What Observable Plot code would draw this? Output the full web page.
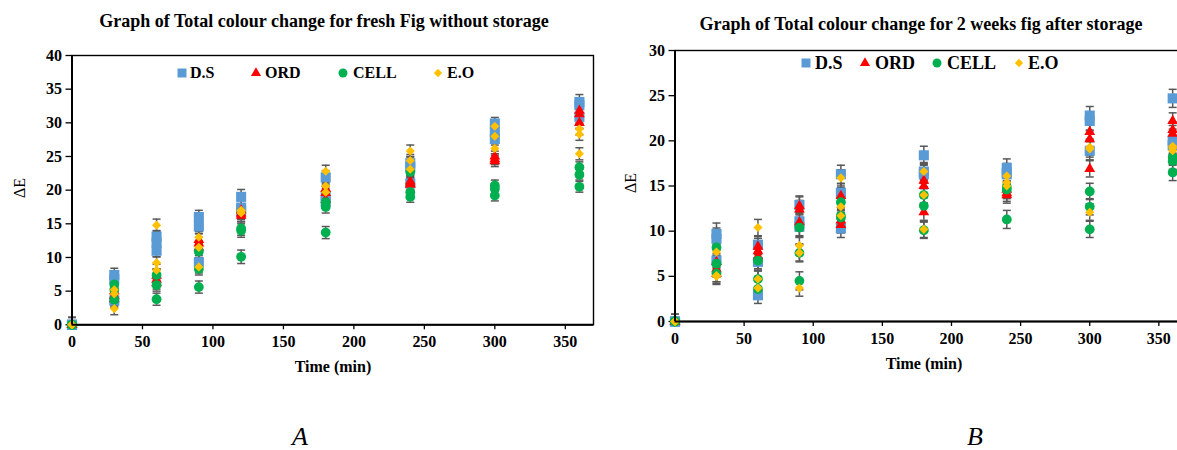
<!DOCTYPE html>
<html>
<head>
<meta charset="utf-8">
<script src="https://cdn.jsdelivr.net/npm/d3@7"></script>
<script src="https://cdn.jsdelivr.net/npm/@observablehq/plot@0.6"></script>
<style>
  body { margin: 0; width: 1177px; height: 450px; overflow: hidden; position: relative; background: #fff;
         font-family: "Liberation Serif", "Times New Roman", serif; color: #000; }
  .abs { position: absolute; white-space: nowrap; line-height: 1; }
  .center { transform: translate(-50%, -50%); }
  .title { font-weight: bold; font-size: 18px; }
  .xlab { font-weight: bold; font-size: 16px; }
  .ylab { font-size: 16px; transform: translate(-50%, -50%) rotate(-90deg); }
  .panel { font-style: italic; font-size: 26px; }
  .leg { font-weight: bold; transform: translateY(-50%); }
  .sym { position: absolute; overflow: visible; }
  .chart { position: absolute; }
</style>
</head>
<body>
<script>
// Sampling times (min)
const times = [0, 30, 60, 90, 120, 180, 240, 300, 360];
const xTicks = [0, 50, 100, 150, 200, 250, 300, 350];
const yTicksFresh = [0, 5, 10, 15, 20, 25, 30, 35, 40];
const yTicksStored = [0, 5, 10, 15, 20, 25, 30];

// Fresh fig: three replicate readings of ΔE per time
const freshDS   = [[0,0,0],[7.4,6.8,3.6],[13.1,12.2,11.0],[16.0,14.6,9.3],[19.0,17.4,16.9],[21.9,19.2,18.3],[24.0,23.4,21.0],[29.9,28.6,27.6],[33.1,32.6,30.9]];
const freshORD  = [[0,0,0],[5.0,4.3,3.8],[7.3,6.7,6.2],[12.6,12.1,11.5],[17.0,16.5,16.2],[20.2,19.6,18.6],[21.3,21.0,20.8],[25.0,24.6,24.3],[31.8,31.3,30.0]];
const freshCELL = [[0,0,0],[6.0,5.2,3.7],[7.4,5.9,3.8],[10.9,8.3,5.6],[14.3,14.0,10.1],[18.2,17.5,13.7],[22.7,19.7,19.0],[20.7,20.2,19.2],[23.4,22.3,20.5]];
const freshEO   = [[0,0,0],[5.2,4.6,2.4],[14.8,9.2,8.1],[13.0,11.5,8.6],[17.0,16.9,16.6],[22.8,20.6,19.7],[25.8,24.4,23.1],[29.5,28.0,26.2],[29.1,28.3,25.4]];
// Fresh fig: error (± ΔE) per time
const freshErrDS   = [1.1,1.0,0.9,1.0,1.1,1.0,1.0,0.9,1.1];
const freshErrORD  = [0,0.9,0.9,0.9,0.9,0.9,0.9,0.8,0.9];
const freshErrCELL = [0,0.9,0.9,0.9,1.0,0.9,0.8,0.8,0.8];
const freshErrEO   = [0,0.9,0.9,0.9,0.9,0.9,0.9,0.8,0.9];

// Fig after 2 weeks storage: three replicate readings of ΔE per time
const storedDS   = [[0,0,0],[9.7,9.15,6.75],[8.5,6.6,2.9],[12.9,11.1,10.5],[16.3,14.25,10.3],[18.4,16.6,16.3],[17.0,16.5,16.3],[22.8,22.2,18.9],[24.7,20.0,19.5]];
const storedORD  = [[0,0,0],[6.6,5.8,5.3],[8.3,7.8,7.2],[12.8,12.4,11.0],[13.9,11.2,10.7],[15.6,15.0,12.1],[14.6,14.2,14.0],[21.0,20.2,16.9],[22.2,21.2,20.8]];
const storedCELL = [[0,0,0],[8.2,6.4,5.3],[6.75,4.7,3.6],[10.4,7.6,4.5],[13.2,11.7,11.5],[14.0,12.8,10.1],[14.9,14.6,11.3],[14.4,12.7,10.2],[18.2,17.75,16.5]];
const storedEO   = [[0,0,0],[7.7,5.1,5.0],[10.4,4.7,3.7],[8.4,7.6,3.7],[15.9,12.7,11.7],[16.6,14.0,10.2],[16.1,15.4,15.0],[19.3,19.1,12.1],[19.4,19.2,18.9]];
// Fig after storage: error (± ΔE) per time
const storedErrDS   = [0.8,1.2,0.9,1.0,1.0,1.0,1.0,1.0,1.0];
const storedErrORD  = [0,0.9,0.9,1.0,0.9,0.9,0.9,0.9,0.9];
const storedErrCELL = [0,0.9,0.9,1.0,0.9,0.9,1.0,0.9,0.9];
const storedErrEO   = [0,0.9,0.9,0.9,0.9,0.9,0.9,0.9,0.9];

const seriesNames = ["D.S", "ORD", "CELL", "E.O"];
const seriesStyle = {
  "D.S":  {symbol: "square",   fill: "#5B9BD5", r: 5.7},
  "ORD":  {symbol: "triangle", fill: "#FF0000", r: 4.0},
  "CELL": {symbol: "circle",   fill: "#00B050", r: 4.9},
  "E.O":  {symbol: "diamond2", fill: "#FFC000", r: 4.1}
};

const tickFont = {fontFamily: "Liberation Serif", fontSize: 16, fontWeight: "bold", fill: "#000"};

function buildRows(valueSets, errSets) {
  const rows = [];
  seriesNames.forEach((name, s) => {
    valueSets[s].forEach((reps, i) => {
      reps.forEach(v => {
        const e = errSets[s][i];
        rows.push({series: name, t: times[i], v, lo: Math.max(0, v - e), hi: v + e, hasErr: e > 0});
      });
    });
  });
  return rows;
}

// Horizontal cap used at the ends of each error bar
const capSymbol = {
  draw(context, size) {
    const w = Math.sqrt(size / Math.PI);
    context.moveTo(-w, 0);
    context.lineTo(w, 0);
  }
};

function makeChart(rows, opts) {
  const errRows = rows.filter(d => d.hasErr);
  return Plot.plot({
    width: opts.width,
    height: opts.height,
    marginLeft: opts.marginLeft,
    marginRight: opts.marginRight,
    marginTop: opts.marginTop,
    marginBottom: opts.marginBottom,
    style: {background: "transparent", overflow: "visible", color: "#000"},
    x: {domain: [0, 370]},
    y: {domain: opts.yDomain},
    marks: [
      Plot.frame({stroke: "#000", strokeWidth: 1.4}),
      Plot.axisX({ticks: xTicks, tickSize: 5, tickPadding: 6, label: null, stroke: "#000", strokeWidth: 1.3, ...tickFont}),
      Plot.axisY({ticks: opts.yTicks, tickSize: 6, tickPadding: 4, label: null, stroke: "#000", strokeWidth: 1.3, ...tickFont}),
      Plot.ruleX(errRows, {x: "t", y1: "lo", y2: "hi", stroke: "#595959", strokeWidth: 1.5}),
      Plot.dot(errRows, {x: "t", y: "hi", symbol: capSymbol, r: 4, stroke: "#595959", strokeWidth: 1.5, fill: "none"}),
      Plot.dot(errRows.filter(d => d.v - (d.hi - d.v) > 0), {x: "t", y: "lo", symbol: capSymbol, r: 4, stroke: "#595959", strokeWidth: 1.5, fill: "none"}),
      ...seriesNames.map(name => Plot.dot(rows.filter(d => d.series === name), {
        x: "t", y: "v", symbol: seriesStyle[name].symbol, r: seriesStyle[name].r, fill: seriesStyle[name].fill
      })),
      Plot.ruleX([0], {stroke: "#000", strokeWidth: 2}),
      Plot.ruleY([0], {stroke: "#000", strokeWidth: 2})
    ]
  });
}

function place(el, left, top) {
  el.style.left = left + "px";
  el.style.top = top + "px";
  document.body.appendChild(el);
  return el;
}

function addText(text, cls, x, y) {
  const d = document.createElement("div");
  d.className = "abs " + cls;
  d.textContent = text;
  return place(d, x, y);
}

function addLegend(y, items, fontSize, symSize) {
  items.forEach(([name, sx, tx]) => {
    const st = seriesStyle[name];
    const svg = d3.create("svg").attr("class", "sym").attr("width", 12).attr("height", 12);
    const sym = {square: d3.symbolSquare, triangle: d3.symbolTriangle, circle: d3.symbolCircle, diamond2: d3.symbolDiamond2}[st.symbol];
    svg.append("path").attr("transform", "translate(6,6)")
      .attr("d", d3.symbol(sym, symSize * symSize * (st.symbol === "triangle" ? 0.55 : st.symbol === "diamond2" ? 0.55 : st.symbol === "circle" ? 0.78 : 1))())
      .attr("fill", st.fill);
    place(svg.node(), sx - 6, y - 6);
    const t = addText(name, "leg", tx, y);
    t.style.fontSize = fontSize + "px";
  });
}

// Panel A: fresh fig
const chartA = makeChart(buildRows([freshDS, freshORD, freshCELL, freshEO], [freshErrDS, freshErrORD, freshErrCELL, freshErrEO]), {
  width: 600, height: 324.3, marginLeft: 71.5, marginRight: 7, marginTop: 15, marginBottom: 40,
  yDomain: [0, 40], yTicks: yTicksFresh
});
chartA.classList.add("chart");
place(chartA, 0, 40);

// Panel B: fig after 2 weeks storage
const chartB = makeChart(buildRows([storedDS, storedORD, storedCELL, storedEO], [storedErrDS, storedErrORD, storedErrCELL, storedErrEO]), {
  width: 588, height: 331, marginLeft: 74.5, marginRight: 2, marginTop: 20, marginBottom: 40,
  yDomain: [0, 30], yTicks: yTicksStored
});
chartB.classList.add("chart");
place(chartB, 600, 30);

addText("Graph of Total colour change for fresh Fig without storage", "title center", 324, 21);
addText("Graph of Total colour change for 2 weeks fig after storage", "title center", 921, 24);
addText("ΔE", "ylab", 20, 188);
addText("ΔE", "ylab", 631, 183);
addText("Time (min)", "xlab center", 333, 367);
addText("Time (min)", "xlab center", 924, 364);
addText("A", "panel center", 300, 437);
addText("B", "panel center", 975, 437);

addLegend(73, [["D.S", 182, 190], ["ORD", 256, 265], ["CELL", 343, 353], ["E.O", 438, 447]], 16, 9);
addLegend(63, [["D.S", 806, 815], ["ORD", 865, 875], ["CELL", 937, 947], ["E.O", 1019, 1028]], 18, 9);
</script>
</body>
</html>
